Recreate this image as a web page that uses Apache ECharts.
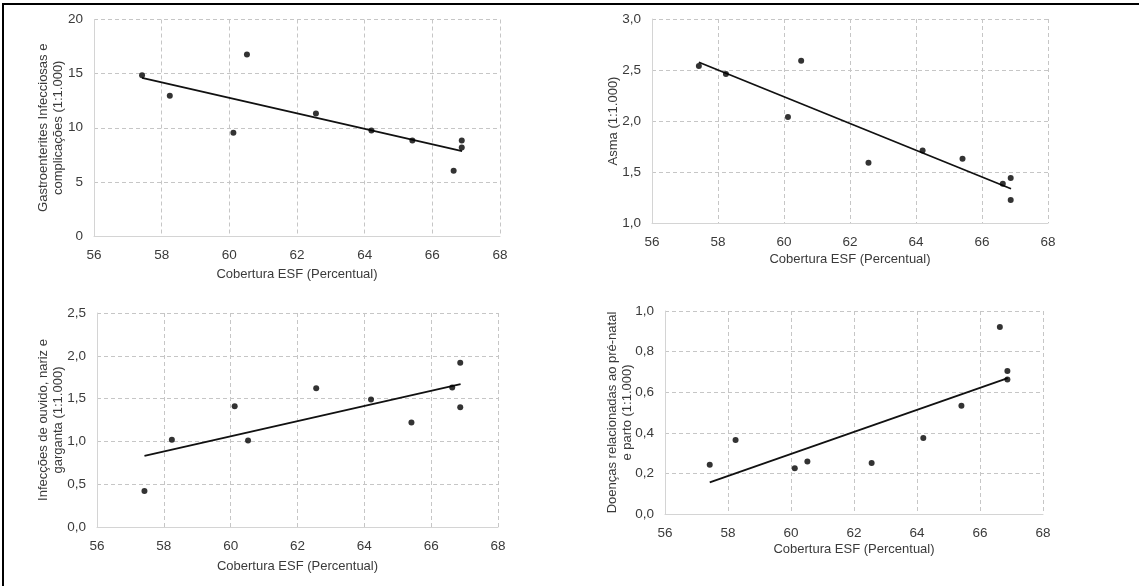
<!doctype html>
<html lang="pt">
<head>
    <meta charset="UTF-8">
    <title>Cobertura ESF</title>
    <script src="https://cdn.jsdelivr.net/npm/echarts@6/dist/echarts.min.js"></script>
    <style>
        html, body { margin: 0; padding: 0; background: #fff; }
        #main { width: 1139px; height: 586px; }
    </style>
</head>
<body>
<div id="main"></div>
<script>
    // cobertura ESF (%) - mesmo eixo x nos 4 graficos
    var cobertura = [57.42, 58.24, 60.12, 60.52, 62.56, 64.20, 65.41, 66.63, 66.87, 66.87];

    var gastro = [14.86, 12.95, 9.54, 16.77, 11.32, 9.75, 8.83, 6.03, 8.83, 8.18];
    var asma = [2.54, 2.46, 2.04, 2.59, 1.59, 1.71, 1.63, 1.385, 1.44, 1.225];
    var ouvido = [0.42, 1.02, 1.41, 1.01, 1.62, 1.49, 1.22, 1.63, 1.92, 1.40];
    var prenatal = [0.243, 0.364, 0.225, 0.259, 0.251, 0.375, 0.533, 0.921, 0.705, 0.662];

    // linhas de tendencia (pontos inicial e final)
    var trendX = [57.42, 66.88];
    var gastroTrend = [14.6, 7.85];
    var asmaTrend = [2.576, 1.336];
    var ouvidoTrend = [0.831, 1.669];
    var prenatalTrend = [0.156, 0.669];

    var font = 'Liberation Sans, Arial, sans-serif';
    var txt = '#3a3a3a';

    function pairs(xs, ys) {
        var out = [];
        for (var i = 0; i < xs.length; i++) out.push([xs[i], ys[i]]);
        return out;
    }

    function fmtComma(v) {
        return v.toFixed(1).replace('.', ',');
    }

    function xAxis(idx, gap) {
        return {
            type: 'value', gridIndex: idx, min: 56, max: 68, interval: 2,
            name: 'Cobertura ESF (Percentual)', nameLocation: 'middle', nameGap: gap,
            nameMoveOverlap: false,
            nameTextStyle: { color: txt, fontSize: 13, fontFamily: font },
            axisLine: { show: true, lineStyle: { color: '#d4d4d4', width: 1 } },
            axisTick: { show: false },
            axisLabel: { color: txt, fontSize: 13.5, fontFamily: font, margin: 12 },
            splitLine: { show: true, lineStyle: { color: '#c6c6c6', type: [4, 3], width: 1 } }
        };
    }

    function yAxis(idx, min, max, step, name, gap, comma) {
        return {
            type: 'value', gridIndex: idx, min: min, max: max, interval: step,
            name: name, nameLocation: 'middle', nameGap: gap, nameRotate: 90,
            nameMoveOverlap: false,
            nameTextStyle: { color: txt, fontSize: 13, fontFamily: font, lineHeight: 15, align: 'center' },
            axisLine: { show: true, lineStyle: { color: '#d4d4d4', width: 1 } },
            axisTick: { show: false },
            axisLabel: {
                color: txt, fontSize: 13.5, fontFamily: font, margin: 11,
                formatter: function (v) { return comma ? fmtComma(v) : String(v); }
            },
            splitLine: { show: true, lineStyle: { color: '#c6c6c6', type: [4, 3], width: 1 } }
        };
    }

    function pontos(idx, ys) {
        return {
            type: 'scatter', xAxisIndex: idx, yAxisIndex: idx,
            data: pairs(cobertura, ys), symbolSize: 6,
            itemStyle: { color: '#000' }, z: 3
        };
    }

    function tendencia(idx, ys) {
        return {
            type: 'line', xAxisIndex: idx, yAxisIndex: idx,
            data: pairs(trendX, ys), symbol: 'none',
            lineStyle: { color: '#111', width: 1.8 }, z: 2
        };
    }

    var chart = echarts.init(document.getElementById('main'), null, { renderer: 'canvas' });

    chart.setOption({
        animation: false,
        backgroundColor: '#fff',
        grid: [
            { left: 94, top: 19.5, width: 406, height: 216.5 },
            { left: 652, top: 19, width: 396, height: 204 },
            { left: 97, top: 313, width: 401, height: 214 },
            { left: 665, top: 311, width: 378, height: 203 }
        ],
        xAxis: [xAxis(0, 32), xAxis(1, 30), xAxis(2, 33), xAxis(3, 29)],
        yAxis: [
            yAxis(0, 0, 20, 5, 'Gastroenterites Infecciosas e\ncomplicações (1:1.000)', 28, false),
            yAxis(1, 1, 3, 0.5, 'Asma (1:1.000)', 31, true),
            yAxis(2, 0, 2.5, 0.5, 'Infecções de ouvido, nariz e\ngarganta (1:1.000)', 31, true),
            yAxis(3, 0, 1, 0.2, 'Doenças relacionadas ao pré-natal\ne parto (1:1.000)', 30, true)
        ],
        series: [
            tendencia(0, gastroTrend), pontos(0, gastro),
            tendencia(1, asmaTrend), pontos(1, asma),
            tendencia(2, ouvidoTrend), pontos(2, ouvido),
            tendencia(3, prenatalTrend), pontos(3, prenatal)
        ],
        graphic: [
            // moldura preta (esquerda e topo)
            { type: 'line', shape: { x1: 3, y1: 3, x2: 3, y2: 586 }, style: { stroke: '#000', lineWidth: 2 } },
            { type: 'line', shape: { x1: 2, y1: 4, x2: 1139, y2: 4 }, style: { stroke: '#000', lineWidth: 2 } }
        ]
    });
</script>
</body>
</html>
